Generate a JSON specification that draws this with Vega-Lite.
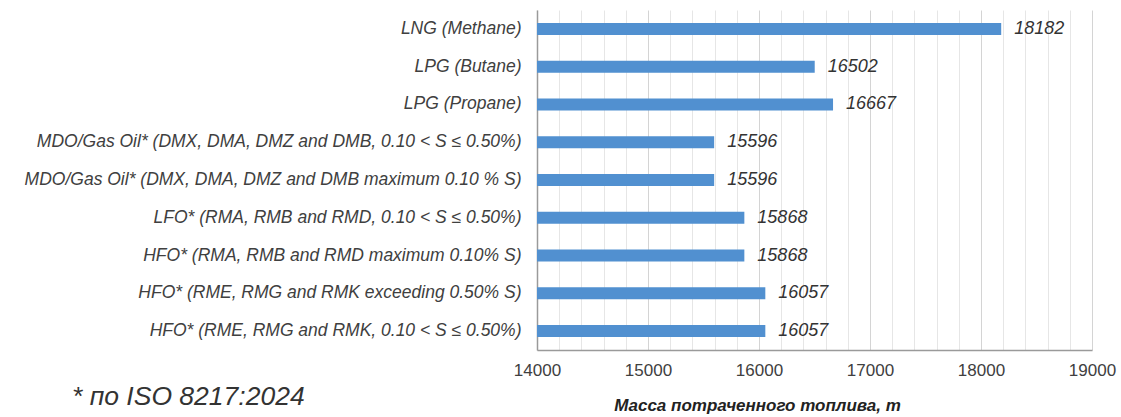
{
  "$schema": "https://vega.github.io/schema/vega-lite/v6.json",
  "autosize": "none",
  "width": 555,
  "height": 340,
  "padding": {"left": 537, "top": 10, "right": 29, "bottom": 67},
  "background": "white",
  "config": {"view": {"stroke": null}, "font": "Liberation Sans"},
  "title": {
    "text": "* по ISO 8217:2024",
    "orient": "bottom",
    "anchor": "start",
    "frame": "group",
    "dx": -465,
    "dy": -33,
    "fontSize": 26.5,
    "fontWeight": "normal",
    "fontStyle": "italic",
    "color": "#333333",
    "font": "Liberation Sans"
  },
  "data": {
    "values": [
      {"fuel": "LNG (Methane)", "mass": 18182},
      {"fuel": "LPG (Butane)", "mass": 16502},
      {"fuel": "LPG (Propane)", "mass": 16667},
      {"fuel": "MDO/Gas Oil* (DMX, DMA, DMZ and DMB, 0.10 < S ≤ 0.50%)", "mass": 15596},
      {"fuel": "MDO/Gas Oil* (DMX, DMA, DMZ and DMB maximum 0.10 % S)", "mass": 15596},
      {"fuel": "LFO* (RMA, RMB and RMD, 0.10 < S ≤ 0.50%)", "mass": 15868},
      {"fuel": "HFO* (RMA, RMB and RMD maximum 0.10% S)", "mass": 15868},
      {"fuel": "HFO* (RME, RMG and RMK exceeding 0.50% S)", "mass": 16057},
      {"fuel": "HFO* (RME, RMG and RMK, 0.10 < S ≤ 0.50%)", "mass": 16057}
    ]
  },
  "encoding": {
    "y": {
      "field": "fuel",
      "type": "nominal",
      "sort": null,
      "axis": {
        "title": null,
        "labelFontSize": 17.5,
        "labelFontStyle": "italic",
        "labelColor": "#404040",
        "labelPadding": 16,
        "labelLimit": 600,
        "ticks": false,
        "domainColor": "#9a9a9a",
        "domainWidth": 1.5
      }
    },
    "x": {
      "field": "mass",
      "type": "quantitative",
      "scale": {"domain": [14000, 19000], "zero": false, "nice": false},
      "axis": {
        "title": "Масса потраченного топлива, т",
        "titleFontSize": 17,
        "titleFontStyle": "italic",
        "titleFontWeight": "bold",
        "titleColor": "#222222",
        "titleX": 220,
        "titleY": 60,
        "titleAlign": "center",
        "titleBaseline": "alphabetic",
        "values": [14000, 14200, 14400, 14600, 14800, 15000, 15200, 15400, 15600, 15800, 16000, 16200, 16400, 16600, 16800, 17000, 17200, 17400, 17600, 17800, 18000, 18200, 18400, 18600, 18800, 19000],
        "format": "d",
        "labelExpr": "datum.value % 1000 === 0 ? datum.label : ''",
        "labelFlush": false,
        "labelFontSize": 17,
        "labelColor": "#404040",
        "labelPadding": 12,
        "ticks": false,
        "grid": true,
        "gridColor": {"condition": {"test": "datum.value % 1000 === 0", "value": "#d4d4d4"}, "value": "#e6e6e6"},
        "domainColor": "#9a9a9a",
        "domainWidth": 1.5
      }
    }
  },
  "layer": [
    {"mark": {"type": "bar", "size": 12, "color": "#5190D0", "clip": true}},
    {
      "mark": {"type": "text", "align": "left", "dx": 13, "fontSize": 18, "fontStyle": "italic", "color": "#333333"},
      "encoding": {"text": {"field": "mass", "type": "quantitative", "format": "d"}}
    }
  ]
}
